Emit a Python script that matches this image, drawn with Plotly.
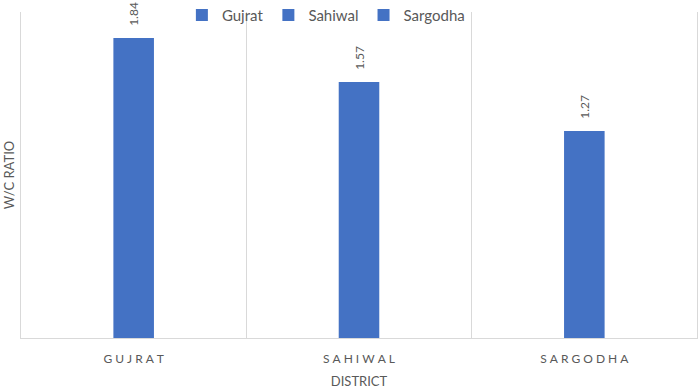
import plotly.graph_objects as go

districts = ["Gujrat", "Sahiwal", "Sargodha"]
tick_labels = ["GUJRAT", "SAHIWAL", "SARGODHA"]
wc_ratio = [1.84, 1.57, 1.27]

BLUE = "#4472C4"
GRAY = "#595959"
LINE = "#D9D9D9"
FONT = "Lato, 'Open Sans', sans-serif"

def spaced(s):
    return "\u2005".join(s)

fig = go.Figure()
for name, lab, v in zip(districts, tick_labels, wc_ratio):
    fig.add_trace(go.Bar(
        x=[spaced(lab)], y=[v], name=name,
        marker=dict(color=BLUE, line=dict(width=0)),
        width=0.18,
        text=["\u00a0\u00a0\u00a0" + f"{v:.2f}"],
        textposition="outside",
        textangle=-90,
        textfont=dict(color=GRAY, size=12, family=FONT),
        cliponaxis=False,
    ))

fig.update_layout(
    width=699, height=389,
    margin=dict(l=21, r=2, t=12, b=51, autoexpand=False),
    barmode="overlay",
    plot_bgcolor="white", paper_bgcolor="white",
    font=dict(family=FONT, color=GRAY),
    showlegend=True,
    legend=dict(orientation="h", x=0.238, xanchor="left", y=0.99, yanchor="middle",
                font=dict(size=15, color=GRAY, family=FONT),
                bgcolor="rgba(0,0,0,0)", itemwidth=30, tracegroupgap=0),
    xaxis=dict(
        automargin=False,
        title=dict(text="DISTRICT", font=dict(size=13, color=GRAY), standoff=11),
        tickson="boundaries", showgrid=True, gridcolor=LINE, gridwidth=1,
        ticks="", showline=True, linecolor=LINE, ticklabelstandoff=10,
        tickfont=dict(size=12, color=GRAY),
        categoryorder="array", categoryarray=[spaced(t) for t in tick_labels],
    ),
    yaxis=dict(
        automargin=False,
        title=dict(text="W/C RATIO", font=dict(size=13, color=GRAY), standoff=2),
        range=[0, 2], showticklabels=False, showgrid=False, zeroline=False,
        showline=True, linecolor=LINE, mirror=True, ticks="",
    ),
)

fig.write_html("out.html", config={"displayModeBar": False},
               post_script="document.body.style.margin='0';")
